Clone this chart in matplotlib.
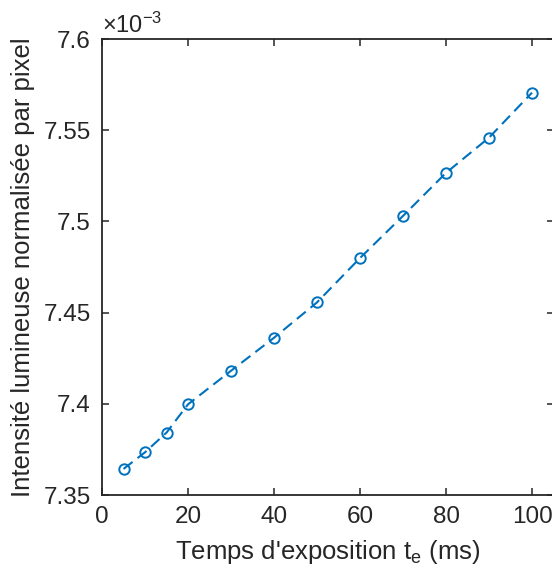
import matplotlib
matplotlib.use("Agg")
import matplotlib.pyplot as plt
from matplotlib.ticker import FuncFormatter

# exposure times (ms) and normalised intensity per pixel
exposure_ms = [5, 10, 15, 20, 30, 40, 50, 60, 70, 80, 90, 100]
intensity = [7.3643e-3, 7.3734e-3, 7.3842e-3, 7.3997e-3, 7.4181e-3, 7.4362e-3,
             7.4556e-3, 7.4799e-3, 7.5030e-3, 7.5266e-3, 7.5459e-3, 7.5706e-3]

x_ticks = [0, 20, 40, 60, 80, 100]
y_ticks = [7.35e-3, 7.40e-3, 7.45e-3, 7.50e-3, 7.55e-3, 7.60e-3]

plt.rcParams['font.family'] = ['Liberation Sans', 'DejaVu Sans']
plt.rcParams['mathtext.fontset'] = 'custom'
plt.rcParams['mathtext.rm'] = 'Liberation Sans'
plt.rcParams['mathtext.it'] = 'Liberation Sans'

blue = '#0072BD'
dark = '#262626'

fig = plt.figure(figsize=(5.52, 5.77), dpi=100)
ax = fig.add_axes([102/552, 82/577, 451.5/552, 456/577])

ax.plot(exposure_ms, intensity, '--o', color=blue, lw=1.5, ms=7.5,
        mfc='none', mew=1.4, dashes=(5.5, 3))

ax.set_xlim(0, 105)
ax.set_ylim(7.35e-3, 7.6e-3)
ax.set_xticks(x_ticks)
ax.set_yticks(y_ticks)
ax.yaxis.set_major_formatter(FuncFormatter(lambda v, p: '%g' % round(v * 1e3, 4)))

ax.tick_params(direction='in', top=True, right=True, length=5, width=1.1,
               color=dark, labelcolor=dark, labelsize=17.5, pad=8)
for s in ax.spines.values():
    s.set_color(dark)
    s.set_linewidth(1.3)
ax.spines['right'].set_color('#cccccc')

ax.text(0.0, 1.003, r'$\times10^{-3}$', transform=ax.transAxes,
        ha='left', va='bottom', fontsize=17, color=dark)

ax.set_xlabel(r"Temps d'exposition t$_\mathrm{e}$ (ms)", fontsize=18.5, color=dark, labelpad=7)
ax.set_ylabel("Intensité lumineuse normalisée par pixel", fontsize=18.5, color=dark, labelpad=6)

fig.savefig('out.png', dpi=100)
